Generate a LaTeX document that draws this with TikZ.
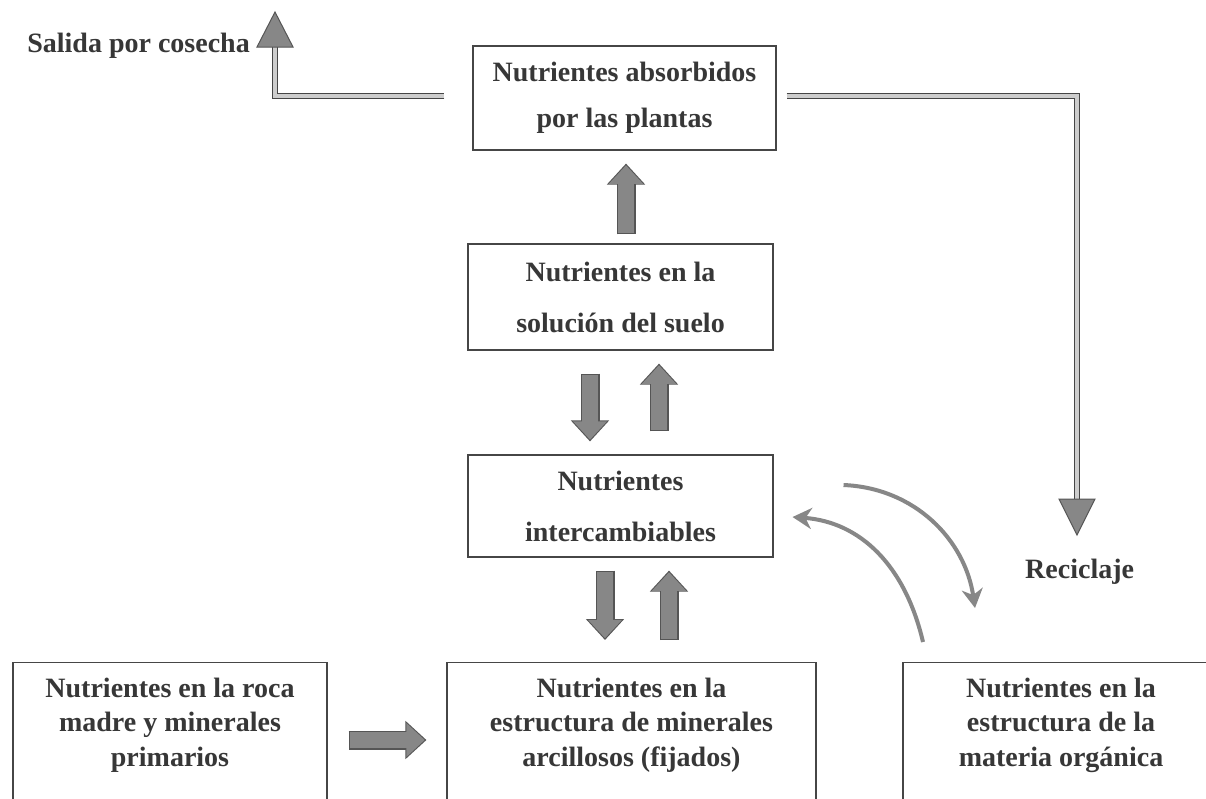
\documentclass[tikz,border=0pt]{standalone}
\usepackage{fontspec}
\setmainfont{Liberation Serif}
\usetikzlibrary{arrows.meta,calc}
\definecolor{txtgray}{RGB}{55,55,55}
\definecolor{linegray}{RGB}{70,70,70}
\definecolor{fatgray}{RGB}{135,135,135}
\definecolor{fatedge}{RGB}{85,85,85}
\definecolor{dblin}{RGB}{205,205,205}
\tikzset{
  box/.style={draw=linegray, line width=1.1pt, inner sep=0pt, align=center, text=txtgray},
  txt/.style={text=txtgray, align=center, inner sep=0pt},
  fatouter/.style={draw=fatedge, line width=19pt, -{Triangle[width=37pt,length=21pt]}},
  fatinner/.style={draw=fatgray, line width=16.4pt, shorten <=1.3pt, shorten >=1.7pt, -{Triangle[width=33pt,length=18.5pt]}},
  dbl/.style={draw=linegray, line width=1.4pt, double=dblin, double distance=4pt},
  headtri/.style={fill=fatgray, draw=fatedge, line width=1pt},
  curved/.style={draw=fatgray, line width=4pt, -{Stealth[length=19pt,width=21pt,inset=6pt]}},
}
\newcommand{\fatarrow}[2]{\draw[fatouter] #1 -- #2; \draw[fatinner] #1 -- #2;}
\begin{document}
\begin{tikzpicture}[x=1pt,y=-1pt]
\useasboundingbox (0,0) rectangle (1206,798);
\clip (0,0) rectangle (1206,798);
\fill[white] (0,0) rectangle (1206,798);

% boxes
\node[box, minimum width=303pt, minimum height=104pt, font=\bfseries\fontsize{28}{46}\selectfont] (abs) at (624.5,98) {Nutrientes absorbidos\\por las plantas};
\node[box, minimum width=305pt, minimum height=106pt, font=\bfseries\fontsize{28}{51}\selectfont] (sol) at (620.5,297) {Nutrientes en la\\soluci\'on del suelo};
\node[box, minimum width=305pt, minimum height=102pt, font=\bfseries\fontsize{28}{51}\selectfont] (exch) at (620.5,506) {Nutrientes\\intercambiables};

\node[box, anchor=north, minimum width=314pt, minimum height=160pt] (roca) at (170,662) {};
\node[box, anchor=north, minimum width=369pt, minimum height=160pt] (arc) at (631.5,662) {};
\node[box, anchor=north, minimum width=316pt, minimum height=160pt] (org) at (1061,662) {};

\node[txt, font=\bfseries\fontsize{28}{34.5}\selectfont] (rocat) at (170,725) {Nutrientes en la roca\\madre y minerales\\primarios};
\node[txt, font=\bfseries\fontsize{28}{34.5}\selectfont] (arct) at (631.5,725) {Nutrientes en la\\estructura de minerales\\arcillosos (fijados)};
\node[txt, font=\bfseries\fontsize{28}{34.5}\selectfont] (orgt) at (1061,725) {Nutrientes en la\\estructura de la\\materia org\'anica};

% labels
\node[txt, anchor=base east, font=\bfseries\fontsize{28}{34}\selectfont] (salida) at (250,52) {Salida por cosecha};
\node[txt, anchor=base west, font=\bfseries\fontsize{28}{34}\selectfont] (recic) at (1025,578) {Reciclaje};

% fat arrows
\fatarrow{($(sol.north)+(5.5,-9)$)}{($(abs.south)+(1.5,13)$)}
\fatarrow{($(sol.south)+(-30.5,23)$)}{($(exch.north)+(-30.5,-13)$)}
\fatarrow{($(exch.north)+(38.5,-23)$)}{($(sol.south)+(38.5,13)$)}
\fatarrow{($(exch.south)+(-15.5,13)$)}{($(arc.north)+(-26.5,-22)$)}
\fatarrow{($(arc.north)+(37.5,-22)$)}{($(exch.south)+(48.5,13)$)}
\fatarrow{($(roca.north east)+(21,78)$)}{($(arc.north west)+(-20,78)$)}

% harvest output (double line)
\coordinate (hL) at (275,47);
\draw[dbl] ($(abs.west)+(-28,-2)$) -| (hL);
\draw[headtri] ($(hL)+(-18,0)$) -- ($(hL)+(0,-35)$) -- ($(hL)+(18,0)$) -- cycle;

% recycling (double line)
\coordinate (hR) at (1077,499);
\draw[dbl] ($(abs.east)+(10,-2)$) -| (hR);
\draw[headtri] ($(hR)+(-18,0)$) -- ($(hR)+(0,36)$) -- ($(hR)+(18,0)$) -- cycle;

% curved arrows
\coordinate (c1s) at ($(exch.east)+(70,-21)$);
\draw[curved] (c1s) .. controls (915,488) and (965,540) .. ($(org.north)+(-86,-54)$);
\draw[curved] ($(org.north)+(-138,-20)$) .. controls (905,565) and (860,522) .. ($(exch.east)+(19,11)$);
\end{tikzpicture}
\end{document}
